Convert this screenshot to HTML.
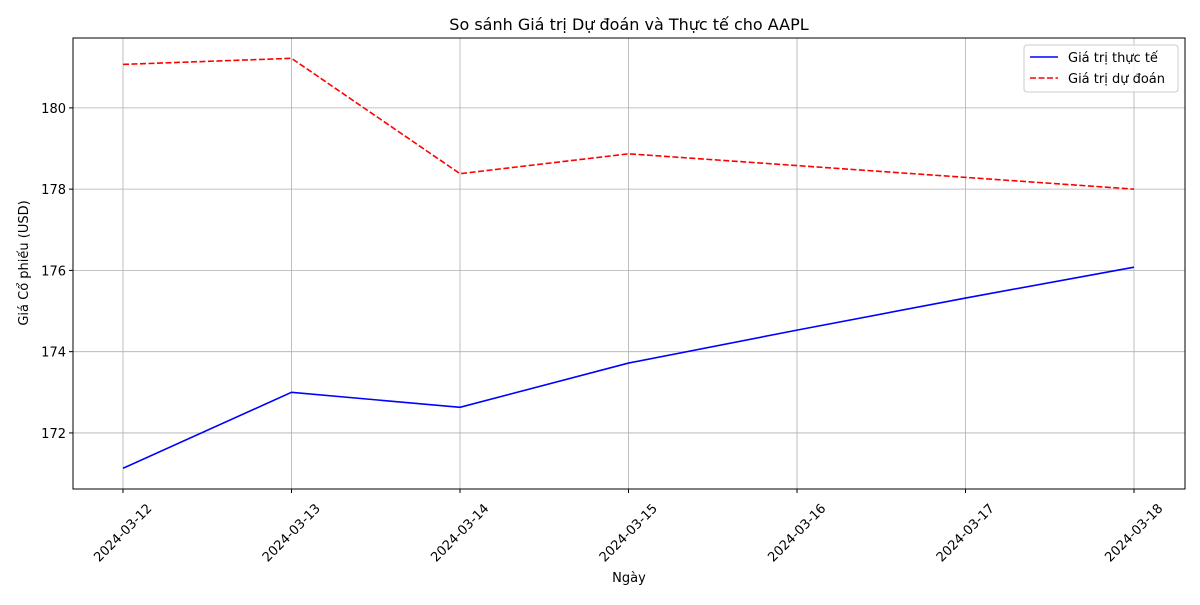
<!DOCTYPE html>
<html><head><meta charset="utf-8"><style>
body{margin:0;background:#fff;}
svg text{font-family:"DejaVu Sans","Liberation Sans",sans-serif;}
</style></head><body>
<svg id="chart" width="1200" height="600" viewBox="0 0 1200 600" xmlns="http://www.w3.org/2000/svg">
<rect width="1200" height="600" fill="#fff"/>
<text x="629" y="30" font-size="16" text-anchor="middle">So sánh Giá trị Dự đoán và Thực tế cho AAPL</text>
<g id="grid"></g>
<g id="ticks"></g>
<g id="series"></g>
<rect x="73" y="38" width="1112" height="451" fill="none" stroke="#000" stroke-width="1"/>
<text x="629" y="582" font-size="13" text-anchor="middle">Ngày</text>
<text transform="translate(28,263) rotate(-90)" font-size="13" text-anchor="middle">Giá Cổ phiếu (USD)</text>
<g>
<rect x="1024" y="45" width="154" height="47" fill="#fff" fill-opacity="0.8" stroke="#ccc" rx="3"/>
<line x1="1030" y1="57" x2="1058" y2="57" stroke="#0000ff" stroke-width="1.6"/>
<text x="1068" y="62" font-size="13">Giá trị thực tế</text>
<line x1="1030" y1="78" x2="1058" y2="78" stroke="#ff0000" stroke-width="1.6" stroke-dasharray="6,2.5"/>
<text x="1068" y="83" font-size="13">Giá trị dự đoán</text>
</g>
</svg>
<script>
const dates=["2024-03-12","2024-03-13","2024-03-14","2024-03-15","2024-03-16","2024-03-17","2024-03-18"];
const actual=[171.13,173.0,172.63,173.72,174.53,175.32,176.08];
const predicted=[181.07,181.22,178.38,178.87,178.58,178.29,178.0];
const yTicks=[172,174,176,178,180];
const ns="http://www.w3.org/2000/svg";
const L=73,R=1185,T=38,B=489,yMin=170.62,yMax=181.72;
const x=i=>123+i*(1134-123)/(dates.length-1);
const y=v=>B-(v-yMin)/(yMax-yMin)*(B-T);
function mk(tag,attrs,parent){const e=document.createElementNS(ns,tag);for(const k in attrs)e.setAttribute(k,attrs[k]);parent.appendChild(e);return e;}
const grid=document.getElementById('grid'),ticks=document.getElementById('ticks'),ser=document.getElementById('series');
dates.forEach((d,i)=>{
 const g=mk('line',{x1:x(i),x2:x(i),y1:T,y2:B,stroke:'#b0b0b0','stroke-width':0.8},grid);
 
 
 mk('line',{x1:x(i),x2:x(i),y1:B,y2:B+4,stroke:'#000'},ticks);
 const cy=B+44;
 const t=mk('text',{x:x(i),y:cy+4,'font-size':13,'text-anchor':'middle',transform:`rotate(-45 ${x(i)} ${cy})`},ticks);
 t.textContent=d;
 
 
});
yTicks.forEach(v=>{
 const g=mk('line',{x1:L,x2:R,y1:y(v),y2:y(v),stroke:'#b0b0b0','stroke-width':0.8},grid);
 
 
 mk('line',{x1:L-4,x2:L,y1:y(v),y2:y(v),stroke:'#000'},ticks);
 const t=mk('text',{x:L-7,y:y(v)+5,'font-size':13,'text-anchor':'end'},ticks);
 t.textContent=v;
 
 
});
const pa=mk('polyline',{points:actual.map((v,i)=>x(i)+','+y(v)).join(' '),fill:'none',stroke:'#0000ff','stroke-width':1.6},ser);


const pp=mk('polyline',{points:predicted.map((v,i)=>x(i)+','+y(v)).join(' '),fill:'none',stroke:'#ff0000','stroke-width':1.6,'stroke-dasharray':'6,2.5'},ser);


</script>
</body></html>
